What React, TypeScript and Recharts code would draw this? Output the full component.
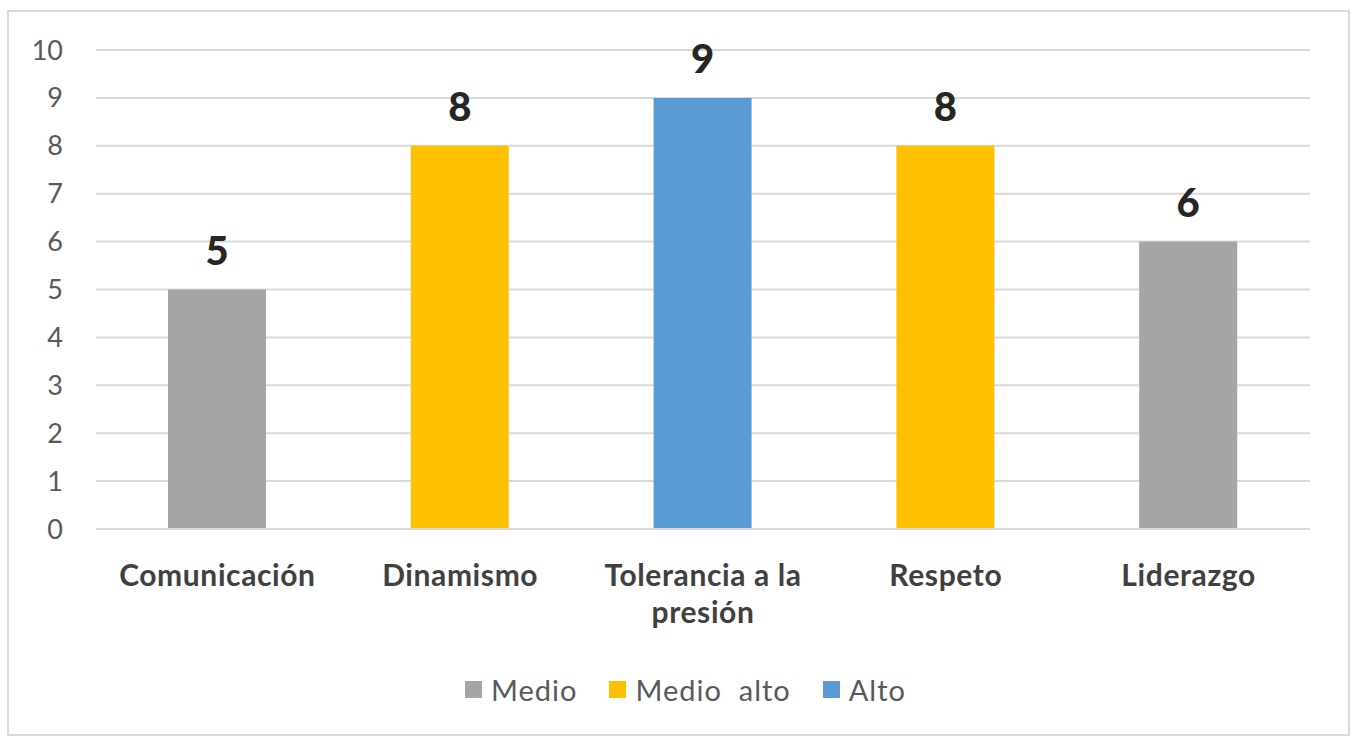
import { BarChart, Bar, XAxis, YAxis, CartesianGrid, Legend, LabelList } from 'recharts';

const categories = ['Comunicación', 'Dinamismo', 'Tolerancia a la presión', 'Respeto', 'Liderazgo'];
const medio = [5, null, null, null, 6];
const medioAlto = [null, 8, null, 8, null];
const alto = [null, null, 9, null, null];
const yTicks = [0, 1, 2, 3, 4, 5, 6, 7, 8, 9, 10];

const series = [
  { key: 'medio', name: 'Medio', color: '#a5a5a5' },
  { key: 'medioAlto', name: 'Medio  alto', color: '#ffc000' },
  { key: 'alto', name: 'Alto', color: '#5b9bd5' },
];

const data = categories.map((name, i) => ({
  name,
  medio: medio[i],
  medioAlto: medioAlto[i],
  alto: alto[i],
}));

const FONT = 'Lato, "Open Sans", sans-serif';

// greedy word wrap by character count
function wrap(label: string, maxChars: number) {
  const lines: string[] = [];
  let cur = '';
  for (const w of label.split(' ')) {
    const next = cur ? cur + ' ' + w : w;
    if (next.length > maxChars && cur) {
      lines.push(cur);
      cur = w;
    } else {
      cur = next;
    }
  }
  if (cur) lines.push(cur);
  return lines;
}

function CategoryTick({ x, y, payload }: any) {
  const lines = wrap(String(payload.value), 16);
  return (
    <text
      x={x}
      y={y + 55}
      textAnchor="middle"
      fill="#404040"
      fontSize={30}
      fontWeight={700}
      fontFamily={FONT}
      letterSpacing={0.6}
    >
      {lines.map((l, i) => (
        <tspan key={i} x={x} dy={i === 0 ? 0 : 37}>
          {l}
        </tspan>
      ))}
    </text>
  );
}

function ValueLabel({ x, y, width, value }: any) {
  if (value == null || value === 0) return null;
  return (
    <text
      x={x + width / 2}
      y={y - 25}
      textAnchor="middle"
      fill="#262626"
      fontSize={40}
      fontWeight={900}
      fontFamily={FONT}
    >
      {value}
    </text>
  );
}

function LegendContent({ payload }: any) {
  // keep the series order rather than the sorted order
  const items = series
    .map((s) => (payload ?? []).find((p: any) => p.dataKey === s.key))
    .filter(Boolean);
  return (
    <div style={{ display: 'flex', justifyContent: 'center', alignItems: 'center', fontFamily: FONT, paddingLeft: 14 }}>
      {items.map((p: any, i: number) => (
        <div key={i} style={{ display: 'flex', alignItems: 'center', marginRight: i < items.length - 1 ? 32 : 0 }}>
          <span style={{ width: 17, height: 17, background: p.color, display: 'inline-block', marginRight: 9 }} />
          <span style={{ fontSize: 29, color: '#595959', whiteSpace: 'pre', letterSpacing: 1 }}>{p.value}</span>
        </div>
      ))}
    </div>
  );
}

export default function App() {
  return (
    <div
      style={{
        position: 'absolute',
        left: 7,
        top: 10,
        width: 1339,
        height: 722,
        border: '2px solid #d9d9d9',
        background: '#fff',
      }}
    >
      <BarChart
        width={1339}
        height={722}
        data={data}
        margin={{ top: 38, right: 38, bottom: 55, left: 0 }}
      >
        <CartesianGrid vertical={false} stroke="#d9d9d9" strokeWidth={2} />
        <XAxis
          dataKey="name"
          tick={<CategoryTick />}
          tickLine={false}
          axisLine={{ stroke: '#d9d9d9', strokeWidth: 2 }}
          tickSize={0}
          height={110}
          interval={0}
        />
        <YAxis
          domain={[0, 10]}
          ticks={yTicks}
          axisLine={false}
          tickLine={false}
          tickSize={0}
          tickMargin={33}
          width={87}
          tick={{ fill: '#595959', fontSize: 27, fontFamily: FONT }}
        />
        <Legend
          content={<LegendContent />}
          height={40}
          wrapperStyle={{ top: 660, left: 0, width: 1339 }}
        />
        {series.map((s) => (
          <Bar
            key={s.key}
            dataKey={s.key}
            name={s.name}
            stackId="a"
            fill={s.color}
            barSize={98}
            isAnimationActive={false}
          >
            <LabelList dataKey={s.key} content={<ValueLabel />} />
          </Bar>
        ))}
      </BarChart>
    </div>
  );
}
